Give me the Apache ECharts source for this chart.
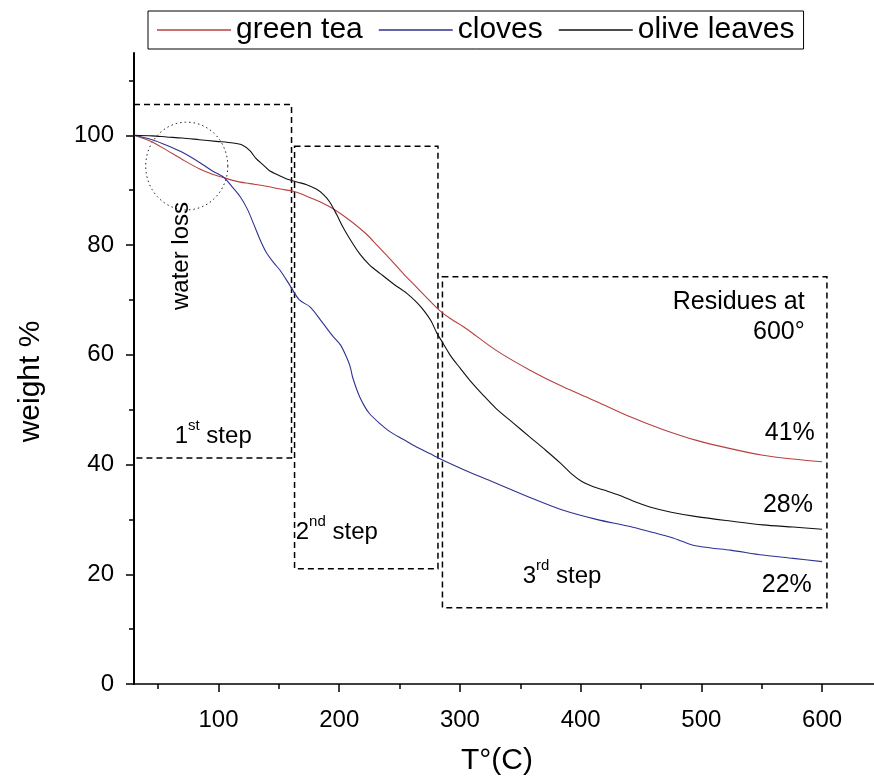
<!DOCTYPE html>
<html>
<head>
<meta charset="utf-8">
<script src="https://cdn.jsdelivr.net/npm/echarts@6/dist/echarts.min.js"></script>
<style>
  html, body { margin: 0; padding: 0; background: #fff; }
  #chart { width: 874px; height: 781px; }
</style>
</head>
<body>
<div id="chart"></div>
<script>
// TGA curves: [temperature °C, weight %]
const greenTea = [
  [30, 100], [45, 98.8], [57, 97.3], [70, 95.6], [84, 93.9], [95, 92.9], [104, 92.3],
  [115, 91.6], [126, 91.2], [140, 90.7], [151, 90.2], [162, 89.8], [172, 89.0],
  [184, 87.9], [195, 86.6], [210, 84.3], [222, 82.1], [232, 79.8], [242, 77.5],
  [253, 74.8], [261, 73.0], [273, 70.3], [283, 68.1], [292, 66.6], [305, 64.8],
  [330, 60.8], [358, 57.2], [385, 54.2], [413, 51.5], [441, 48.7], [468, 46.4],
  [496, 44.4], [524, 42.9], [551, 41.7], [576, 41.0], [600, 40.5]
]
const cloves = [
  [30, 100], [45, 99.2], [57, 98.2], [70, 96.9], [84, 95.1], [95, 93.5], [104, 92.4],
  [111, 90.7], [118, 88.8], [124, 86.5], [129, 83.9], [135, 80.7], [140, 78.5],
  [146, 76.7], [151, 75.4], [159, 72.7], [167, 70.0], [176, 68.7], [186, 65.9],
  [195, 63.3], [201, 61.8], [206, 59.6], [209, 57.9], [211, 56.0], [214, 54.0],
  [217, 52.3], [221, 50.6], [225, 49.3], [233, 47.6], [242, 46.0], [253, 44.6],
  [264, 43.2], [275, 42.0], [286, 40.8], [308, 38.6], [330, 36.6], [358, 34.0],
  [385, 31.7], [413, 30.0], [441, 28.7], [460, 27.6], [474, 26.8], [484, 26.0],
  [493, 25.3], [508, 24.8], [524, 24.4], [551, 23.5], [576, 22.9], [600, 22.3]
]
const oliveLeaves = [
  [30, 100], [45, 99.9], [57, 99.7], [70, 99.5], [84, 99.2], [98, 98.9], [112, 98.6],
  [120, 98.2], [126, 97.2], [131, 95.8], [137, 94.6], [142, 93.6], [150, 92.7],
  [156, 92.1], [165, 91.5], [173, 91.0], [181, 90.2], [187, 89.2], [192, 87.9],
  [198, 85.5], [203, 83.3], [210, 80.7], [217, 78.4], [225, 76.4], [234, 74.8],
  [245, 72.9], [256, 71.2], [264, 69.6], [270, 68.1], [276, 66.2], [281, 63.9],
  [286, 62.1], [292, 59.9], [300, 57.6], [308, 55.4], [319, 52.7], [330, 50.2],
  [344, 47.6], [358, 45.0], [371, 42.6], [383, 40.3], [393, 38.2], [401, 36.9],
  [410, 36.0], [420, 35.3], [432, 34.4], [445, 33.2], [458, 32.2], [475, 31.3],
  [496, 30.5], [524, 29.7], [551, 29.0], [576, 28.6], [600, 28.2]
]

const xTicks = [100, 200, 300, 400, 500, 600]
const xMinorTicks = [50, 150, 250, 350, 450, 550]
const yTicks = [0, 20, 40, 60, 80, 100]
const yMinorTicks = [10, 30, 50, 70, 90, 110]

// annotation boxes: [x1, y1, x2, y2] in data units
const stepBoxes = [
  [30, 41.2, 160.5, 105.6],
  [163, 21, 281.8, 98],
  [285.5, 13.9, 604, 74.2]
]
// dotted ellipse: [cx, cy, rx, ry]
const waterEllipse = [[73.7, 94.4, 34, 8]]
// text notes
const notePos = [
  [69.3, 78.0], [63.7, 45.7], [164, 28.1], [352, 20.2],
  [585.6, 69.6], [585.6, 64.1], [594, 45.7], [592.4, 32.6], [591.5, 18]
]
const noteText = [
  'water loss', '{n|1}{s|st}{n| step}', '{n|2}{s|nd}{n| step}', '{n|3}{s|rd}{n| step}',
  'Residues at', '600°', '41%', '28%', '22%'
]

const FONT = '"Liberation Sans", Arial, sans-serif'
const COLORS = { tea: '#b8403f', cloves: '#2e3290', olive: '#111111' }

const chart = echarts.init(document.getElementById('chart'))

function lineSeries(name, data, color) {
  return {
    name, type: 'line', data,
    showSymbol: false, symbol: 'none',
    smooth: 0.3,
    lineStyle: { color, width: 1.1 },
    itemStyle: { color },
    z: 3,
  }
}

const axisLine = { show: true, lineStyle: { color: '#000', width: 1.5 } }

chart.setOption({
  animation: false,
  textStyle: { fontFamily: FONT },
  grid: { left: 134, right: 0, top: 53, bottom: 97 },
  legend: {
    data: ['green tea', 'cloves', 'olive leaves'],
    left: 148, top: 11,
    padding: [4, 9],
    icon: 'rect',
    itemWidth: 74, itemHeight: 1.3, itemGap: 16,
    borderColor: '#000', borderWidth: 1,
    textStyle: { fontSize: 30, color: '#000', fontFamily: FONT },
  },
  xAxis: [
    {
      type: 'value', min: 30, max: 643,
      name: 'T°(C)', nameLocation: 'middle', nameGap: 62,
      nameTextStyle: { fontSize: 30, color: '#000', fontFamily: FONT, padding: [0, 14, 0, 0] },
      axisLine,
      axisTick: { customValues: xTicks, length: 8, lineStyle: { color: '#000', width: 1.5 } },
      axisLabel: { customValues: xTicks, fontSize: 24, color: '#000', margin: 24 },
      splitLine: { show: false },
    },
    {
      type: 'value', min: 30, max: 643, position: 'bottom',
      axisLine: { show: false },
      axisTick: { customValues: xMinorTicks, length: 5, lineStyle: { color: '#000', width: 1.5 } },
      axisLabel: { show: false },
      splitLine: { show: false },
    },
  ],
  yAxis: [
    {
      type: 'value', min: 0, max: 115,
      name: 'weight %', nameLocation: 'middle', nameGap: 88,
      nameTextStyle: { fontSize: 30, color: '#000', fontFamily: FONT, padding: [0, 26, 0, 0] },
      axisLine: { show: true, lineStyle: { color: '#000', width: 2 } },
      axisTick: { customValues: yTicks, length: 8, lineStyle: { color: '#000', width: 1.5 } },
      axisLabel: { customValues: yTicks, fontSize: 24, color: '#000', margin: 20 },
      splitLine: { show: false },
    },
    {
      type: 'value', min: 0, max: 115, position: 'left',
      axisLine: { show: false },
      axisTick: { customValues: yMinorTicks, length: 5, lineStyle: { color: '#000', width: 1.5 } },
      axisLabel: { show: false },
      splitLine: { show: false },
    },
  ],
  series: [
    lineSeries('green tea', greenTea, COLORS.tea),
    lineSeries('cloves', cloves, COLORS.cloves),
    lineSeries('olive leaves', oliveLeaves, COLORS.olive),
    {
      type: 'custom', name: 'boxes', data: stepBoxes, silent: true, z: 2,
      renderItem(params, api) {
        const a = api.coord([api.value(0), api.value(3)])
        const b = api.coord([api.value(2), api.value(1)])
        return {
          type: 'rect',
          shape: { x: a[0], y: a[1], width: b[0] - a[0], height: b[1] - a[1] },
          style: { fill: null, stroke: '#000', lineWidth: 1.5, lineDash: [6, 4] },
        }
      },
    },
    {
      type: 'custom', name: 'ellipse', data: waterEllipse, silent: true, z: 2,
      renderItem(params, api) {
        const c = api.coord([api.value(0), api.value(1)])
        const e = api.coord([api.value(0) + api.value(2), api.value(1) + api.value(3)])
        const rx = Math.abs(e[0] - c[0]), ry = Math.abs(e[1] - c[1])
        const pts = []
        for (let i = 0; i < 90; i++) {
          const t = (i / 90) * Math.PI * 2
          pts.push([c[0] + rx * Math.cos(t), c[1] + ry * Math.sin(t)])
        }
        return {
          type: 'polygon', shape: { points: pts },
          style: { fill: null, stroke: '#222', lineWidth: 1, lineDash: [1.5, 3] },
        }
      },
    },
    {
      type: 'custom', name: 'notes', data: notePos, silent: true, z: 4,
      renderItem(params, api) {
        const p = api.coord([api.value(0), api.value(1)])
        const i = params.dataIndex
        const txt = noteText[i]
        const right = i >= 4
        const el = {
          type: 'text', x: p[0], y: p[1],
          style: {
            text: txt, fill: '#000', fontFamily: FONT,
            fontSize: i === 0 ? 24 : (i < 4 ? 24 : 25),
            align: right ? 'right' : (i === 0 ? 'center' : 'left'),
            verticalAlign: 'middle',
            rich: {
              n: { fontSize: 24, fontFamily: FONT, fill: '#000', lineHeight: 30, verticalAlign: 'bottom' },
              s: { fontSize: 15, fontFamily: FONT, fill: '#000', lineHeight: 30, verticalAlign: 'top' },
            },
          },
        }
        if (i === 0) el.rotation = Math.PI / 2
        return el
      },
    },
  ],
})
</script>
</body>
</html>
